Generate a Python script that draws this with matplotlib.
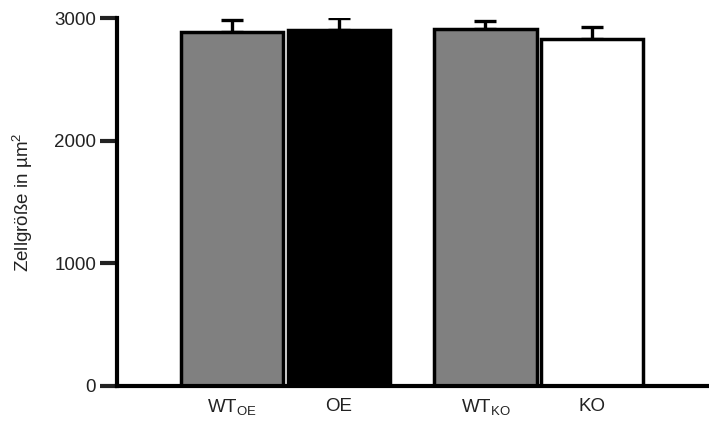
import numpy as np
import matplotlib.pyplot as plt

plt.rcParams['font.family'] = ['Liberation Sans', 'DejaVu Sans']
plt.rcParams['mathtext.fontset'] = 'custom'
plt.rcParams['mathtext.rm'] = 'Liberation Sans'

groups = [r'WT$_{\mathrm{OE}}$', 'OE', r'WT$_{\mathrm{KO}}$', 'KO']
positions = [1, 2, 3.37, 4.37]
means = [2890, 2905, 2910, 2830]
sem = [95, 95, 68, 100]
fills = ['#808080', '#000000', '#808080', '#ffffff']

fig = plt.figure(figsize=(7.09, 4.21), dpi=100)
ax = fig.add_axes([0.165, 0.0843, 0.835, 0.872])

ax.errorbar(positions, means, yerr=[np.zeros(len(sem)), sem], fmt='none',
            ecolor='black', elinewidth=2.4, capsize=8, capthick=2.4, zorder=1)
ax.bar(positions, means, width=0.955, color=fills, edgecolor='black',
       linewidth=2.5, zorder=2)

ax.set_xlim(-0.075, 5.46)
ax.set_ylim(0, 3000)
ax.set_yticks([0, 1000, 2000, 3000])
ax.set_xticks(positions)
ax.set_xticklabels(groups)
ax.tick_params(axis='y', length=12, width=3, labelsize=13.5, pad=3, colors='#222222')
ax.tick_params(axis='x', length=0, labelsize=13.5, pad=9, colors='#222222')
ax.set_ylabel('Zellgröße in µm$^2$', fontsize=13.5, labelpad=14, color='#222222')

for side in ['top', 'right']:
    ax.spines[side].set_visible(False)
for side in ['left', 'bottom']:
    ax.spines[side].set_linewidth(3)
    ax.spines[side].set_color('black')

fig.savefig('out.png', dpi=100)
